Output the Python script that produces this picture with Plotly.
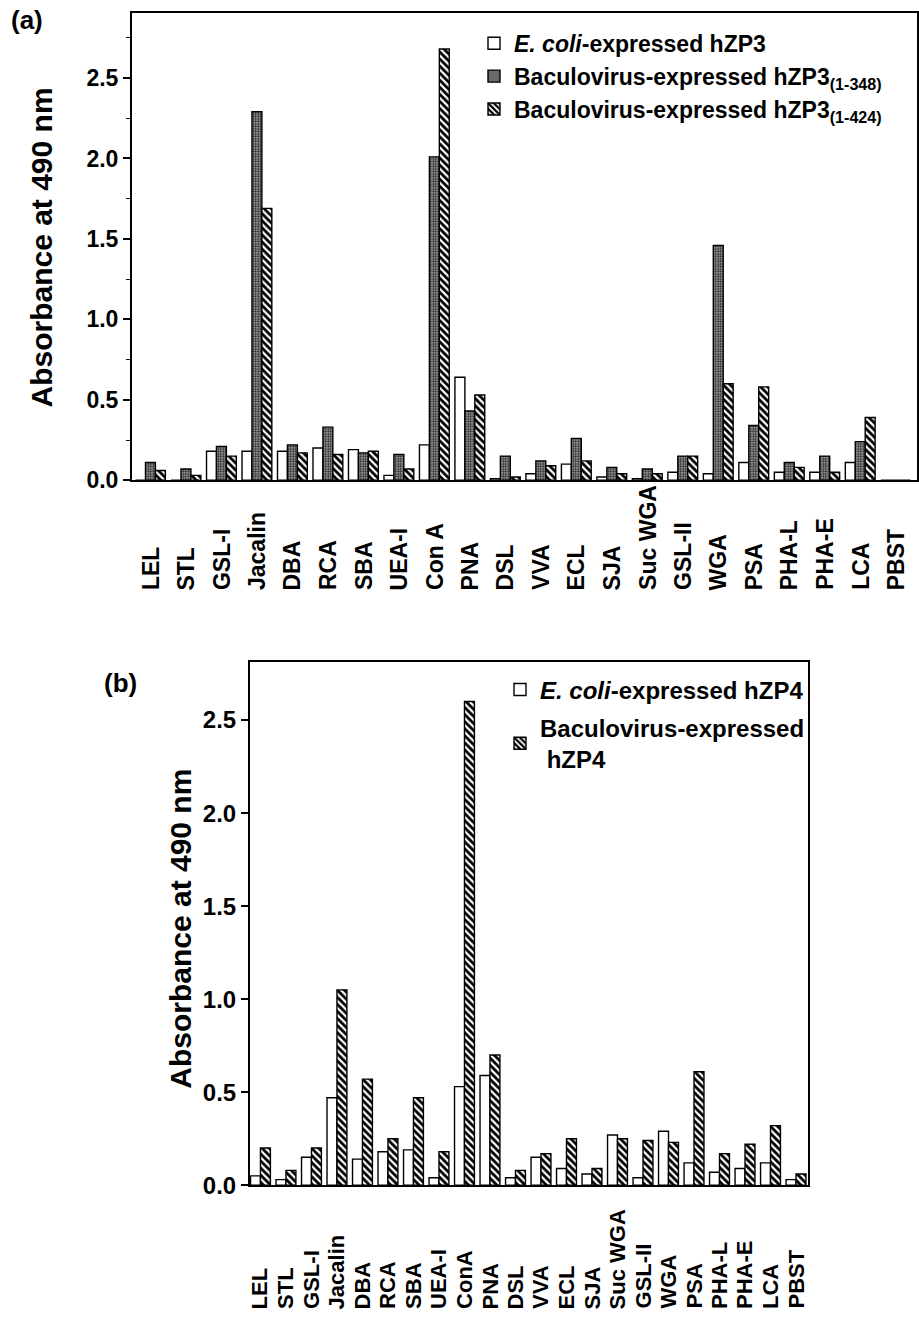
import plotly.graph_objects as go

# ---------------- data ----------------
lectins_a = ["LEL", "STL", "GSL-I", "Jacalin", "DBA", "RCA", "SBA", "UEA-I", "Con A", "PNA",
             "DSL", "VVA", "ECL", "SJA", "Suc WGA", "GSL-II", "WGA", "PSA", "PHA-L", "PHA-E",
             "LCA", "PBST"]
ecoli_zp3 = [0.00, 0.00, 0.18, 0.18, 0.18, 0.20, 0.19, 0.03, 0.22, 0.64,
             0.01, 0.04, 0.10, 0.02, 0.01, 0.05, 0.04, 0.11, 0.05, 0.05, 0.11, 0.00]
bac_zp3_348 = [0.11, 0.07, 0.21, 2.29, 0.22, 0.33, 0.17, 0.16, 2.01, 0.43,
               0.15, 0.12, 0.26, 0.08, 0.07, 0.15, 1.46, 0.34, 0.11, 0.15, 0.24, 0.00]
bac_zp3_424 = [0.06, 0.03, 0.15, 1.69, 0.17, 0.16, 0.18, 0.07, 2.68, 0.53,
               0.02, 0.09, 0.12, 0.04, 0.04, 0.15, 0.60, 0.58, 0.08, 0.05, 0.39, 0.00]

lectins_b = ["LEL", "STL", "GSL-I", "Jacalin", "DBA", "RCA", "SBA", "UEA-I", "ConA", "PNA",
             "DSL", "VVA", "ECL", "SJA", "Suc WGA", "GSL-II", "WGA", "PSA", "PHA-L", "PHA-E",
             "LCA", "PBST"]
ecoli_zp4 = [0.05, 0.03, 0.15, 0.47, 0.14, 0.18, 0.19, 0.04, 0.53, 0.59,
             0.04, 0.15, 0.09, 0.06, 0.27, 0.04, 0.29, 0.12, 0.07, 0.09, 0.12, 0.03]
bac_zp4 = [0.20, 0.08, 0.20, 1.05, 0.57, 0.25, 0.47, 0.18, 2.60, 0.70,
           0.08, 0.17, 0.25, 0.09, 0.25, 0.24, 0.23, 0.61, 0.17, 0.22, 0.32, 0.06]

y_ticks = [0.0, 0.5, 1.0, 1.5, 2.0, 2.5]

# ---------------- styling ----------------
W, H = 919, 1320
FONT = "Liberation Sans, Arial, Helvetica, sans-serif"
line = dict(color="black", width=1.4)
white_marker = dict(color="white", line=line)
gray_marker = dict(color="#9c9c9c", line=line,
                   pattern=dict(shape=".", fillmode="replace", bgcolor="#a0a0a0",
                                fgcolor="#1a1a1a", size=2.5, solidity=0.45))
hatch_marker = dict(color="white", line=line,
                    pattern=dict(shape="\\", fillmode="replace", bgcolor="white",
                                 fgcolor="black", size=5, solidity=0.55))


def px_x(p):
    return p / W


def px_y(p):
    return 1 - p / H


fig = go.Figure()

# panel (a)
fig.add_trace(go.Bar(x=lectins_a, y=ecoli_zp3, marker=white_marker,
                     name="<i>E. coli</i>-expressed hZP3", xaxis="x", yaxis="y",
                     legend="legend", legendgroup="a1"))
fig.add_trace(go.Bar(x=lectins_a, y=bac_zp3_348, marker=gray_marker,
                     name="Baculovirus-expressed hZP3<sub>(1-348)</sub>", xaxis="x", yaxis="y",
                     legend="legend", legendgroup="a2"))
fig.add_trace(go.Bar(x=lectins_a, y=bac_zp3_424, marker=hatch_marker,
                     name="Baculovirus-expressed hZP3<sub>(1-424)</sub>", xaxis="x", yaxis="y",
                     legend="legend", legendgroup="a3"))

# panel (b) — narrower bars than panel (a)
fig.add_trace(go.Bar(x=lectins_b, y=ecoli_zp4, marker=white_marker,
                     width=0.39, offset=-0.39,
                     name="<i>E. coli</i>-expressed hZP4", xaxis="x2", yaxis="y2",
                     legend="legend2", legendgroup="b1"))
fig.add_trace(go.Bar(x=lectins_b, y=bac_zp4, marker=hatch_marker,
                     width=0.39, offset=0.0,
                     name="Baculovirus-expressed<br> hZP4", xaxis="x2", yaxis="y2",
                     legend="legend2", legendgroup="b2"))

axis_common = dict(showline=True, linecolor="black", linewidth=2, mirror=True,
                   showgrid=False, zeroline=False)

fig.update_layout(
    # panel (a) geometry: left 132, right 917, top 13, bottom 485
    xaxis=dict(domain=[px_x(132), px_x(917)], anchor="y", type="category",
               range=[-0.52, 21.6], ticks="", showticklabels=False,
               **axis_common),
    yaxis=dict(domain=[px_y(485), px_y(13)], anchor="x", range=[0, 2.905],
               tickvals=y_ticks, ticktext=[f"{v:.1f}" for v in y_ticks],
               ticks="outside", ticklen=7, tickwidth=1.5, tickcolor="black",
               minor=dict(dtick=0.25, tick0=0, ticks="outside", ticklen=4,
                          tickwidth=1.2, tickcolor="black"),
               tickfont=dict(family=FONT, size=23, color="black", weight="bold"),
               **axis_common),
    # panel (b) geometry: left 250, right 808, top 669, bottom 1197
    xaxis2=dict(domain=[px_x(250), px_x(808)], anchor="y2", type="category",
                range=[-0.41, 21.47], ticks="", showticklabels=False,
                **axis_common),
    yaxis2=dict(domain=[px_y(1197), px_y(669)], anchor="x2", range=[0, 2.81],
                tickvals=y_ticks, ticktext=[f"{v:.1f}" for v in y_ticks],
                ticks="outside", ticklen=7, tickwidth=1.5, tickcolor="black",
                tickfont=dict(family=FONT, size=24, color="black", weight="bold"),
                **axis_common),
)

fig.update_layout(
    width=W, height=H,
    margin=dict(l=0, r=0, t=0, b=0),
    paper_bgcolor="white", plot_bgcolor="white",
    barmode="group",
    bargap=0.16, bargroupgap=0.0,
    font=dict(family=FONT, color="black"),
    legend=dict(x=px_x(474), y=px_y(22), xanchor="left", yanchor="top",
                bgcolor="rgba(0,0,0,0)", borderwidth=0, tracegroupgap=0,
                font=dict(family=FONT, size=23, color="black", weight="bold")),
    legend2=dict(x=px_x(500), y=px_y(674), xanchor="left", yanchor="top",
                 bgcolor="rgba(0,0,0,0)", borderwidth=0, tracegroupgap=4,
                 font=dict(family=FONT, size=24, color="black", weight="bold")),
    showlegend=True,
)

annotations = [
    dict(text="(a)", x=px_x(27), y=px_y(20), xref="paper", yref="paper",
         xanchor="center", yanchor="middle", showarrow=False,
         font=dict(family=FONT, size=26, color="black", weight="bold")),
    dict(text="(b)", x=px_x(120), y=px_y(690), xref="paper", yref="paper",
         xanchor="center", yanchor="middle", showarrow=False,
         font=dict(family=FONT, size=26, color="black", weight="bold")),
    dict(text="Absorbance at 490 nm", x=px_x(42), y=px_y(250), xref="paper", yref="paper",
         xanchor="center", yanchor="middle", textangle=-90, showarrow=False,
         font=dict(family=FONT, size=30, color="black", weight="bold")),
    dict(text="Absorbance at 490 nm", x=px_x(181), y=px_y(938), xref="paper", yref="paper",
         xanchor="center", yanchor="middle", textangle=-90, showarrow=False,
         font=dict(family=FONT, size=30, color="black", weight="bold")),
]
# category labels, bottom-aligned like the original
lab_font_a = dict(family=FONT, size=23, color="black", weight="bold")
lab_font_b = dict(family=FONT, size=22, color="black", weight="bold")
for lab in lectins_a:
    annotations.append(dict(text=lab, x=lab, xref="x", y=px_y(598), yref="paper",
                            xanchor="center", yanchor="bottom", textangle=-90,
                            showarrow=False, font=lab_font_a))
for lab in lectins_b:
    annotations.append(dict(text=lab, x=lab, xref="x2", y=px_y(1324), yref="paper",
                            xanchor="center", yanchor="bottom", textangle=-90,
                            showarrow=False, font=lab_font_b))
fig.update_layout(annotations=annotations)

fig.write_html("out.html")
